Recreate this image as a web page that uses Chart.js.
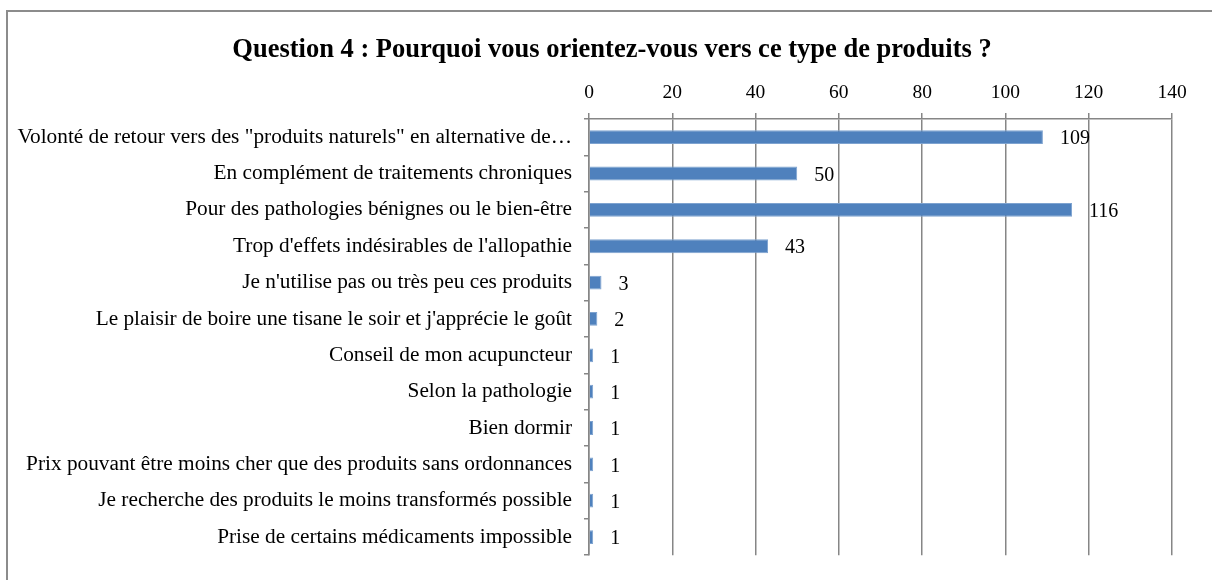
<!DOCTYPE html>
<html lang="fr">
<head>
<meta charset="UTF-8">
<title>Question 4</title>
<script src="https://cdn.jsdelivr.net/npm/chart.js"></script>
<style>
  body { margin: 0; background: white; overflow: hidden; }
  #wrap { position: relative; width: 1212px; height: 580px; }
  #frame { position: absolute; left: 6px; top: 10px; width: 1220px; height: 600px; border: 2px solid #8c8c8c; box-sizing: border-box; }
  canvas { position: absolute; left: 0; top: 0; }
</style>
</head>
<body>
<div id="wrap">
  <div id="frame"></div>
  <canvas id="chart" width="1212" height="580"></canvas>
</div>
<script>
const titleText = 'Question 4 : Pourquoi vous orientez-vous vers ce type de produits ?';
const categories = [
  'Volonté de retour vers des "produits naturels" en alternative de\u2026',
  'En complément de traitements chroniques',
  'Pour des pathologies bénignes ou le bien-être',
  "Trop d'effets indésirables de l'allopathie",
  "Je n'utilise pas ou très peu ces produits",
  "Le plaisir de boire une tisane le soir et j'apprécie le goût",
  'Conseil de mon acupuncteur',
  'Selon la pathologie',
  'Bien dormir',
  'Prix pouvant être moins cher que des produits sans ordonnances',
  'Je recherche des produits le moins transformés possible',
  'Prise de certains médicaments impossible'
];
const counts = [109, 50, 116, 43, 3, 2, 1, 1, 1, 1, 1, 1];
const axisMin = 0, axisMax = 140, axisStep = 20;

const fontFam = '"Liberation Serif", "Times New Roman", serif';
const gridGray = '#868686';

// title sits a bit right of the canvas centre, as in the original
const titleDraw = {
  id: 'titleDraw',
  afterDraw(chart) {
    const ctx = chart.ctx;
    ctx.save();
    ctx.font = 'bold 26.5px ' + fontFam;
    ctx.fillStyle = '#000';
    ctx.textAlign = 'center';
    ctx.textBaseline = 'middle';
    ctx.fillText(titleText, 612, 50);
    ctx.restore();
  }
};

// value labels to the right of each bar
const valueLabels = {
  id: 'valueLabels',
  afterDatasetsDraw(chart) {
    const ctx = chart.ctx;
    const meta = chart.getDatasetMeta(0);
    ctx.save();
    ctx.font = '20px ' + fontFam;
    ctx.fillStyle = '#000';
    ctx.textAlign = 'left';
    ctx.textBaseline = 'middle';
    meta.data.forEach((bar, i) => {
      ctx.fillText(String(counts[i]), bar.x + 17, bar.y + 2);
    });
    ctx.restore();
  }
};

new Chart(document.getElementById('chart'), {
  type: 'bar',
  data: {
    labels: categories,
    datasets: [{
      data: counts,
      backgroundColor: '#4F81BD',
      borderColor: '#7EA3D0',
      borderWidth: 1,
      barPercentage: 0.38,
      categoryPercentage: 1
    }]
  },
  options: {
    indexAxis: 'y',
    responsive: false,
    animation: false,
    layout: { padding: { left: 12, right: 40, top: 65, bottom: 22 } },
    plugins: {
      legend: { display: false },
      tooltip: { enabled: false },
      title: { display: false }
    },
    scales: {
      x: {
        position: 'top',
        min: axisMin,
        max: axisMax,
        afterFit(scale) { scale.height = 119 - 65; },
        ticks: {
          stepSize: axisStep,
          color: '#000',
          padding: 8,
          font: { family: fontFam, size: 19.5 }
        },
        grid: { color: gridGray, lineWidth: 1.5, drawTicks: true, tickLength: 6 },
        border: { display: true, color: gridGray, width: 1.5 }
      },
      y: {
        afterFit(scale) { scale.width = 589 - 12; },
        ticks: {
          color: '#000',
          padding: 12,
          autoSkip: false,
          font: { family: fontFam, size: 21.3 }
        },
        grid: { offset: true, drawOnChartArea: false, drawTicks: true, tickLength: 5, color: gridGray, lineWidth: 1.5 },
        border: { display: true, color: gridGray, width: 1.5 }
      }
    }
  },
  plugins: [valueLabels, titleDraw]
});
</script>
</body>
</html>
